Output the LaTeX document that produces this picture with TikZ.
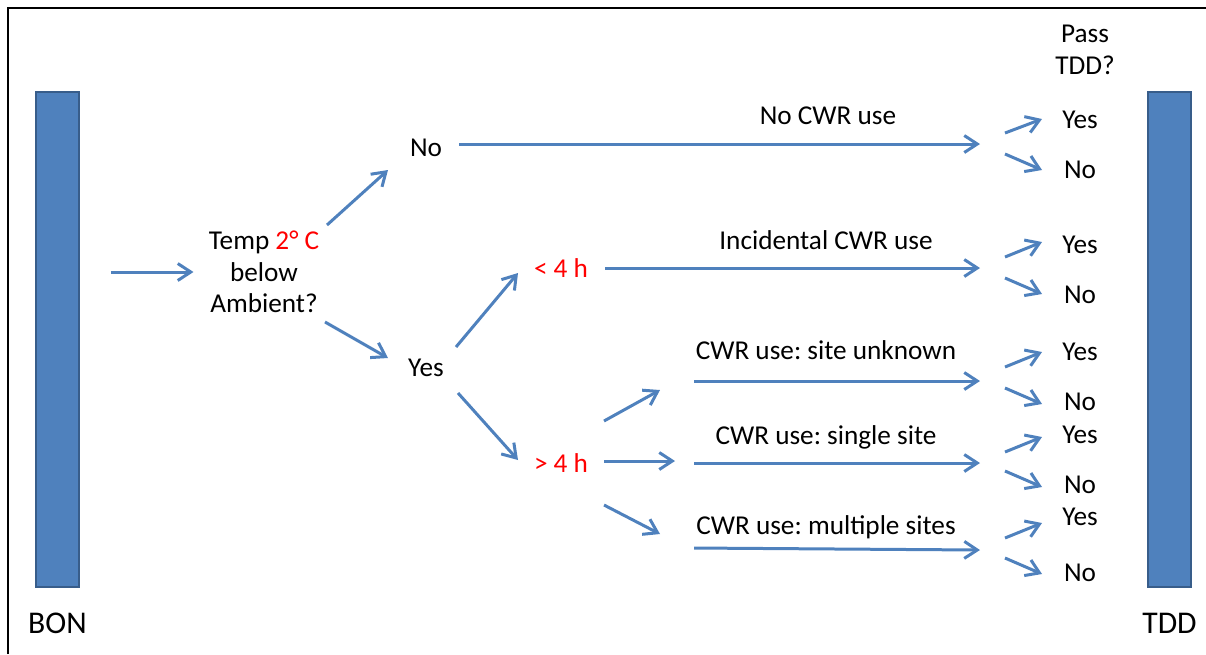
\documentclass[tikz,border=0pt]{standalone}
\usepackage{fontspec}
\setmainfont{Carlito}
\usepackage{tikz}
\usepackage{xcolor}
\usetikzlibrary{arrows.meta,positioning}
\definecolor{flowblue}{RGB}{79,129,189}
\definecolor{bardark}{RGB}{56,93,138}
\frenchspacing
\tikzset{
  >={Straight Barb[length=2.6mm,width=3.4mm]},
  bar/.style={
    rectangle,
    fill=flowblue,
    draw=bardark, line width=0.04cm,
    minimum width=0.86cm,
    minimum height=9.9cm,
    inner sep=0pt},
  lbl/.style={inner sep=0pt, font=\fontsize{15.5}{18}\selectfont, align=center},
  barlbl/.style={inner sep=0pt, font=\fontsize{18}{20}\selectfont},
  redlbl/.style={lbl, text=red},
  flow/.style={draw=flowblue, line width=0.06cm, ->},
  frame/.style={draw=black, line width=0.04cm},
}
\begin{document}
\begin{tikzpicture}[x=0.02cm, y=-0.02cm]
  \useasboundingbox (0,0) rectangle (1206,654);
  \draw[frame] (8,654) -- (8,8) -- (1206,8);

  % end bars
  \node[bar] (bon) at (57.5,339.5) {};
  \node[bar] (tdd) at (1169.5,339.5) {};
  \node[barlbl, below=0.5cm of bon] (bonlbl) {BON};
  \node[barlbl, below=0.5cm of tdd] (tddlbl) {TDD};

  % decisions
  \node[lbl] (temp) at (264,272) {Temp \textcolor{red}{2° C}\\below\\Ambient?};
  \node[lbl] (no) at (426,148) {No};
  \node[lbl] (yes) at (426,368) {Yes};
  \node[redlbl] (lt) at (561,268) {< 4 h};
  \node[redlbl] (gt) at (561,463) {> 4 h};

  % CWR use
  \node[lbl] (cwr1) at (828,116) {No CWR use};
  \node[lbl] (cwr2) at (826,240) {Incidental CWR use};
  \node[lbl] (cwr3) at (826,350) {CWR use: site unknown};
  \node[lbl] (cwr4) at (826,437) {CWR use: single site};
  \node[lbl] (cwr5) at (826,527) {CWR use: multiple sites};
  \coordinate (s3) at (694,381);
  \coordinate (s4) at (694,463);
  \coordinate (s5) at (694,548);
  \coordinate (e1) at (980,144);
  \coordinate (e2) at (980,268);
  \coordinate (e3) at (980,381);
  \coordinate (e4) at (980,463);
  \coordinate (e5) at (980,550);

  % pass TDD?
  \node[lbl] (pass) at (1085,50) {Pass\\TDD?};
  \node[lbl] (y1) at (1080,120) {Yes};
  \node[lbl] (n1) at (1080,170) {No};
  \node[lbl] (y2) at (1080,245) {Yes};
  \node[lbl] (n2) at (1080,295) {No};
  \node[lbl] (y3) at (1080,352) {Yes};
  \node[lbl] (n3) at (1080,402) {No};
  \node[lbl] (y4) at (1080,435) {Yes};
  \node[lbl] (n4) at (1080,485) {No};
  \node[lbl] (y5) at (1080,517) {Yes};
  \node[lbl] (n5) at (1080,573) {No};

  \path[flow, shorten <=0.62cm, shorten >=0.3cm] (bon.east |- temp) -- (temp);
  \path[flow] ([shift={(63,-47)}]temp.center) -- ([shift={(-38,22)}]no.center);
  \path[flow] ([shift={(61,50)}]temp.center) -- ([shift={(-38,-10)}]yes.center);
  \path[flow] ([shift={(30,-21)}]yes.center) -- ([shift={(-43,5)}]lt.center);
  \path[flow] ([shift={(32,25)}]yes.center) -- ([shift={(-43,-3)}]gt.center);
  \path[flow] ([shift={(43,-42)}]gt.center) -- ([shift={(-34,9)}]s3);
  \path[flow] ([shift={(43,-2)}]gt.center) -- ([shift={(-19,-2)}]s4);
  \path[flow] ([shift={(43,42)}]gt.center) -- ([shift={(-34,-14)}]s5);

  \path[flow, shorten <=0.34cm] (no.east |- e1) -- (e1);
  \path[flow, shorten <=0.34cm] (lt) -- (e2);
  \path[flow] (s3) -- (e3);
  \path[flow] (s4) -- (e4);
  \path[flow] (s5) -- (e5);

  \path[flow] ([shift={(25,-11)}]e1) -- ([shift={(-38,-1)}]y1.center);
  \path[flow] ([shift={(25,10)}]e1) -- ([shift={(-38,0)}]n1.center);
  \path[flow] ([shift={(25,-11)}]e2) -- ([shift={(-38,-3)}]y2.center);
  \path[flow] ([shift={(25,10)}]e2) -- ([shift={(-38,-1)}]n2.center);
  \path[flow] ([shift={(25,-14)}]e3) -- ([shift={(-38,0)}]y3.center);
  \path[flow] ([shift={(25,7)}]e3) -- ([shift={(-38,2)}]n3.center);
  \path[flow] ([shift={(25,-11)}]e4) -- ([shift={(-38,2)}]y4.center);
  \path[flow] ([shift={(25,8)}]e4) -- ([shift={(-38,2)}]n4.center);
  \path[flow] ([shift={(25,-12)}]e5) -- ([shift={(-38,6)}]y5.center);
  \path[flow] ([shift={(25,8)}]e5) -- ([shift={(-38,1)}]n5.center);
\end{tikzpicture}
\end{document}
